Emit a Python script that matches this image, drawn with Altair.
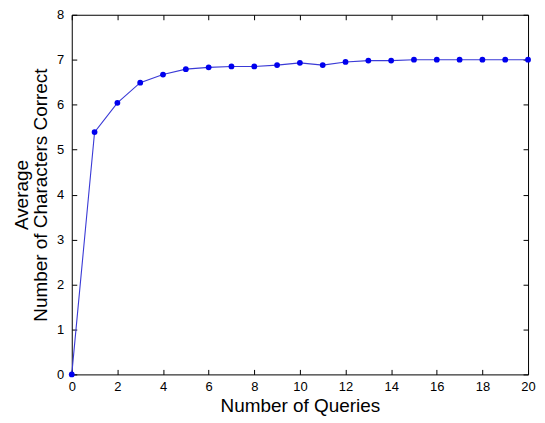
import altair as alt
import pandas as pd

queries = list(range(0, 21))
avg_correct = [0.0, 5.39, 6.04, 6.49, 6.67, 6.79, 6.83, 6.85, 6.85, 6.88, 6.93,
               6.88, 6.95, 6.98, 6.98, 7.0, 7.0, 7.0, 7.0, 7.0, 7.0]
x_ticks = list(range(0, 21, 2))
y_ticks = list(range(0, 9))

df = pd.DataFrame({"q": queries, "v": avg_correct})

FONT = "Liberation Sans"
xs = alt.Scale(domain=[0, 20], nice=False, zero=False)
ys = alt.Scale(domain=[0, 8], nice=False)

base = alt.Chart(df)

line = base.mark_line(color="#3a3ad6", strokeWidth=1.1).encode(
    x=alt.X("q:Q", scale=xs,
            axis=alt.Axis(values=x_ticks, title="Number of Queries", orient="bottom",
                          offset=-5, tickSize=5, domain=False, grid=False,
                          labelPadding=6, titlePadding=3, labelFlush=False)),
    y=alt.Y("v:Q", scale=ys,
            axis=alt.Axis(values=y_ticks, title=["Average", "Number of Characters Correct"],
                          orient="left", offset=-5, tickSize=5, domain=False, grid=False,
                          labelPadding=8, titlePadding=6, labelFlush=False,
                          titleLineHeight=19)),
)
pts = base.mark_point(filled=True, color="#0000ee", size=34, opacity=1, shape="circle").encode(
    x=alt.X("q:Q", scale=xs, axis=None),
    y=alt.Y("v:Q", scale=ys, axis=None),
)
frame = base.mark_point(opacity=0).encode(
    x=alt.X("q:Q", scale=xs,
            axis=alt.Axis(values=x_ticks, orient="top", labels=False, title=None,
                          offset=-5, tickSize=5, domain=False, grid=False)),
    y=alt.Y("v:Q", scale=ys,
            axis=alt.Axis(values=y_ticks, orient="right", labels=False, title=None,
                          offset=-5, tickSize=5, domain=False, grid=False)),
)

chart = alt.layer(line, pts, frame).resolve_axis(
    x="independent", y="independent"
).properties(
    width=458, height=361,
    autosize=alt.AutoSizeParams(type="none"),
    padding={"left": 64, "top": 6, "right": 9, "bottom": 46},
).configure_view(
    stroke="black", strokeWidth=1
).configure_axis(
    labelFont=FONT, titleFont=FONT, labelFontSize=13, titleFontSize=19,
    titleFontWeight="normal", labelColor="black", titleColor="black",
    tickColor="black", tickWidth=1
)

chart.save("out.html", embed_options={"renderer": "svg", "actions": False})
